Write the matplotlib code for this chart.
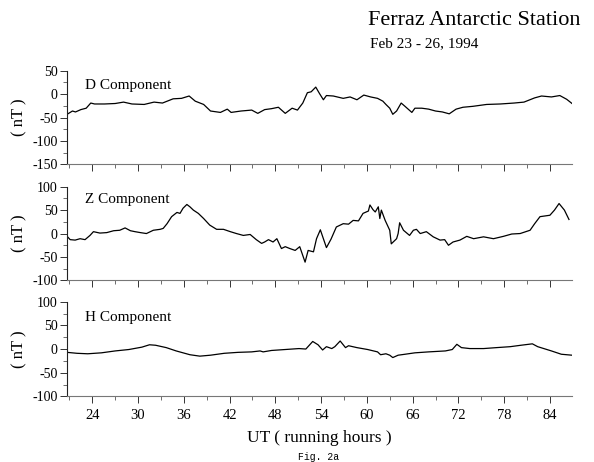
import matplotlib
matplotlib.use("Agg")
import matplotlib.pyplot as plt
from matplotlib.ticker import MultipleLocator

plt.rcParams['font.family'] = ['Liberation Serif', 'DejaVu Serif']
plt.rcParams['axes.unicode_minus'] = False

# values (UT running hours, nT)
d_hours = [20.7, 21.4, 21.8, 22.5, 23.2, 23.8, 24.3, 25.6, 27.0, 28.1, 29.2, 30.8,
           32.1, 33.2, 34.6, 35.7, 36.7, 37.5, 38.6, 39.5, 40.8, 41.7, 42.2, 43.5,
           44.9, 45.7, 46.6, 47.5, 48.4, 49.3, 50.2, 50.9, 51.6, 52.2, 52.7, 53.3,
           53.8, 54.3, 54.7, 55.6, 56.9, 57.8, 58.7, 59.6, 60.5, 61.4, 62.1, 62.5,
           63.0, 63.4, 63.9, 64.5, 65.0, 65.9, 66.3, 67.2, 68.1, 69.0, 69.9, 70.8,
           71.7, 72.6, 73.9, 75.7, 77.5, 79.3, 80.6, 82.0, 82.9, 84.2, 85.3, 86.2, 86.9]
d_nt = [-43, -36, -38, -33, -30, -19, -21, -21, -20, -17, -21, -22,
        -17, -19, -10, -9, -4, -15, -22, -36, -39, -32, -39, -36,
        -34, -41, -33, -31, -28, -41, -30, -34, -19, 3, 5, 15,
        1, -12, -3, -4, -9, -6, -12, -2, -6, -9, -15, -22,
        -30, -43, -36, -19, -26, -39, -30, -30, -32, -36, -38, -42,
        -32, -28, -26, -22, -21, -19, -17, -8, -4, -6, -3, -11, -20]

z_hours = [20.7, 21.1, 21.75, 22.4, 23.05, 23.7, 24.15, 25.0, 25.9, 26.8, 27.6, 28.3,
           29.0, 29.6, 30.3, 31.1, 32.0, 32.9, 33.3, 33.8, 34.4, 35.1, 35.5, 35.9,
           36.4, 36.8, 37.25, 37.9, 38.6, 39.4, 40.3, 41.2, 42.1, 42.9, 43.8, 44.7,
           45.5, 46.2, 46.6, 47.1, 47.7, 48.2, 48.8, 49.3, 49.9, 50.6, 51.2, 51.9,
           52.3, 53.0, 53.4, 53.9, 54.7, 55.3, 56.0, 56.9, 57.6, 58.2, 58.9, 59.5,
           60.2, 60.4, 60.8, 61.1, 61.5, 61.7, 61.9, 62.4, 63.0, 63.2, 63.9, 64.1,
           64.3, 64.8, 65.6, 66.1, 66.5, 67.0, 67.8, 68.7, 69.6, 70.2, 70.7, 71.3,
           72.2, 73.1, 74.0, 75.3, 76.6, 77.9, 79.0, 80.1, 81.4, 82.0, 82.7, 84.0,
           84.6, 85.2, 85.9, 86.5]
z_nt = [-6, -13, -14, -11, -13, -4, 4, 1, 2, 6, 7, 12,
        6, 4, 2, 0, 7, 9, 11, 21, 36, 45, 43, 54,
        62, 57, 50, 43, 32, 18, 9, 9, 4, 0, -4, -2,
        -13, -21, -18, -13, -18, -11, -32, -28, -32, -36, -28, -61,
        -36, -39, -11, 8, -30, -12, 14, 21, 20, 28, 27, 43,
        48, 61, 51, 46, 57, 32, 50, 28, 7, -22, -11, 0,
        23, 7, -4, 7, 9, 0, 4, -7, -14, -13, -25, -18,
        -14, -6, -11, -7, -11, -6, -1, 0, 7, 21, 36, 39,
        50, 64, 50, 30]

h_hours = [20.7, 22.0, 23.4, 25.2, 27.0, 28.8, 30.5, 31.5, 32.3, 33.7, 35.0, 36.8,
           38.1, 39.5, 41.3, 43.1, 44.9, 46.0, 46.4, 47.5, 49.3, 51.1, 52.0, 52.9,
           53.6, 54.2, 54.7, 55.4, 55.8, 56.5, 57.2, 57.6, 58.7, 60.1, 61.4, 61.8,
           62.5, 63.0, 63.4, 64.1, 65.0, 66.3, 68.1, 70.3, 71.2, 71.8, 72.4, 73.5,
           75.3, 77.0, 78.8, 80.2, 81.7, 82.4, 84.2, 85.5, 86.9]
h_nt = [-7, -9, -10, -8, -4, -1, 4, 9, 8, 3, -4, -12,
        -15, -13, -9, -7, -6, -4, -6, -3, -1, 1, 0, 16,
        9, -2, 5, 1, 5, 17, 3, 7, 3, -1, -6, -12,
        -10, -13, -18, -13, -11, -8, -6, -4, -1, 10, 3, 1,
        1, 3, 5, 8, 11, 5, -4, -11, -13]

panels = [
    ("D Component", d_hours, d_nt, (-150, 50), [0.113, 0.644, 0.850, 0.203], 0.845),
    ("Z Component", z_hours, z_nt, (-100, 100), [0.113, 0.393, 0.850, 0.203], 0.858),
    ("H Component", h_hours, h_nt, (-100, 100), [0.113, 0.142, 0.850, 0.205], 0.83),
]

fig = plt.figure(figsize=(5.94, 4.62), dpi=100)

for i, (name, hrs, vals, ylim, rect, label_y) in enumerate(panels):
    ax = fig.add_axes(rect)
    ax.plot(hrs, vals, color='black', linewidth=0.9)
    ax.set_xlim(20.7, 86.9)
    ax.set_ylim(*ylim)
    ax.spines['top'].set_visible(False)
    ax.spines['right'].set_visible(False)
    ax.spines['left'].set_color('#222222')
    ax.spines['left'].set_linewidth(0.8)
    ax.spines['bottom'].set_color('#777777')
    ax.spines['bottom'].set_linewidth(0.8)
    ax.yaxis.set_major_locator(MultipleLocator(50))
    ax.yaxis.set_minor_locator(MultipleLocator(25))
    ax.xaxis.set_major_locator(MultipleLocator(6, offset=0))
    ax.xaxis.set_minor_locator(MultipleLocator(3))
    ax.tick_params(axis='both', which='major', length=5, width=0.7, color='#333333',
                   labelsize=10, pad=2)
    ax.tick_params(axis='both', which='minor', length=3, width=0.6, color='#555555')
    ax.tick_params(axis='x', labelsize=10.5, pad=4)
    if i < 2:
        ax.tick_params(axis='x', labelbottom=False)
    ax.set_ylabel("( nT )", fontsize=12)
    ax.yaxis.set_label_coords(-0.078, 0.5)
    ax.text(0.036, label_y, name, transform=ax.transAxes, fontsize=11,
            ha='left', va='center')

fig.text(0.62, 0.955, "Ferraz Antarctic Station", fontsize=16, ha='left', va='center')
fig.text(0.623, 0.905, "Feb 23 - 26, 1994", fontsize=11, ha='left', va='center')
fig.text(0.537, 0.052, "UT ( running hours )", fontsize=12.5, ha='center', va='center')
fig.text(0.537, 0.01, "Fig. 2a", fontsize=7, ha='center', va='center',
         family=['Liberation Mono', 'DejaVu Sans Mono'])

fig.savefig("out.png", dpi=100, facecolor='white')
